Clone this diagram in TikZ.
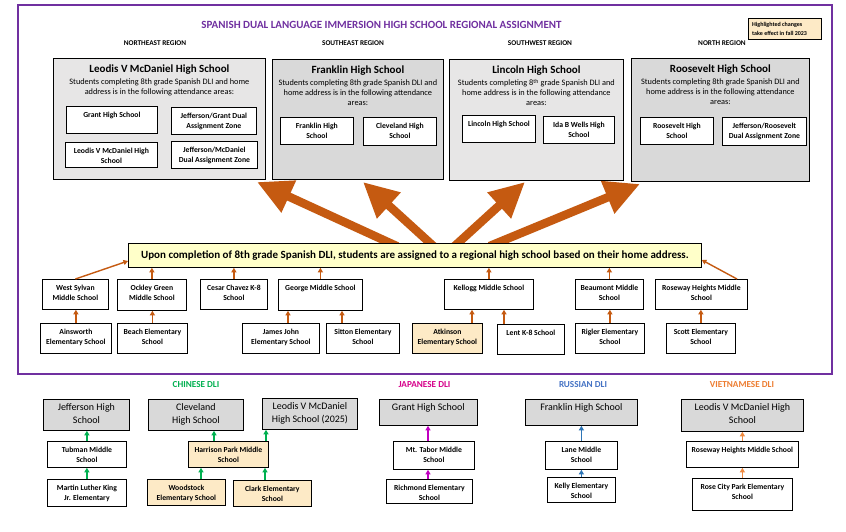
\documentclass[tikz,border=0pt]{standalone}
\usepackage{fontspec}
\setmainfont{Carlito}
\usetikzlibrary{arrows.meta,calc,backgrounds}
\definecolor{purp}{HTML}{7030A0}
\definecolor{borange}{HTML}{C55A11}
\definecolor{lorange}{HTML}{FDEAC6}
\definecolor{lyellow}{HTML}{FFFFC9}
\definecolor{grayA}{HTML}{E7E6E6}
\definecolor{grayB}{HTML}{D9D9D9}
\definecolor{cgreen}{HTML}{00B050}
\definecolor{jmag}{HTML}{D6008A}
\definecolor{jarr}{HTML}{C000C0}
\definecolor{rblue}{HTML}{4472C4}
\definecolor{rarr}{HTML}{2E75B6}
\definecolor{vorange}{HTML}{ED7D31}
\definecolor{varr}{HTML}{F08A40}
\newcommand{\mybox}[8][smalltext]{%
  \node[#7, anchor=north west, minimum width={(#5-#3)*1pt}, minimum height={(#6-#4)*1pt}] (#2) at (#3,#4) {};
  \node[anchor=north, align=center, inner sep=0pt, #1] at (#2.north) {#8};}
\begin{document}
\begin{tikzpicture}[x=1pt,y=-1pt,
  wbox/.style={draw=black, line width=0.8pt, fill=white, inner sep=0pt},
  obox/.style={wbox, fill=lorange},
  gbox/.style={wbox, fill=grayB},
  lgbox/.style={wbox, fill=grayA},
  smalltext/.style={font=\bfseries\fontsize{7.7}{10.5}\selectfont, yshift=-5.5pt},
  hstext/.style={font=\fontsize{10}{13}\selectfont, yshift=-4.5pt},
  bigtext/.style={font=\fontsize{8.3}{10}\selectfont, yshift=-7pt},
  regtext/.style={font=\bfseries\fontsize{7.3}{8}\selectfont},
  dlitext/.style={font=\bfseries\fontsize{9.2}{10}\selectfont},
  brarrow/.style={draw=borange, line width=1.4pt, -{Triangle[length=4.5pt,width=5pt]}},
  colarrow/.style={draw=#1, line width=1.4pt, -{Triangle[length=4.5pt,width=5pt]}},
  bigarrow/.style={draw=borange, line width=8.5pt, -{Triangle[length=35pt,width=33pt]}}]
\useasboundingbox (0,0) rectangle (846,531);
% frame
\draw[purp, line width=1.2pt] (18,5) rectangle (832,374);
\node[font=\bfseries\fontsize{11}{13}\selectfont, text=purp] (title) at (381.5,25) {SPANISH DUAL LANGUAGE IMMERSION HIGH SCHOOL REGIONAL ASSIGNMENT};
\node[draw=black, line width=0.8pt, fill=lorange, anchor=north west, minimum width=73pt, minimum height=21pt, inner sep=0pt] (note) at (748,18) {};
\node[font=\bfseries\fontsize{6}{8.3}\selectfont, align=left, anchor=west, inner sep=0pt] (notetext) at ([xshift=4pt]note.west) {Highlighted changes\\take effect in fall 2023};
% region labels
\node[regtext] (rne) at (155,43) {NORTHEAST REGION};
\node[regtext] (rse) at (353,43) {SOUTHEAST REGION};
\node[regtext] (rsw) at (540,43) {SOUTHWEST REGION};
\node[regtext] (rno) at (722,43) {NORTH REGION};
% big boxes
\mybox[bigtext]{leodis}{53}{58}{265}{179}{lgbox}{{\fontsize{11}{12}\selectfont\bfseries Leodis V McDaniel High School}\\[2pt]Students completing 8th grade Spanish DLI and home\\address is in the following attendance areas:}
\mybox[bigtext]{franklin}{272}{59}{443}{179}{gbox}{{\fontsize{11}{12}\selectfont\bfseries Franklin High School}\\[2pt]Students completing 8th grade Spanish DLI and\\home address is in the following attendance\\areas:}
\mybox[bigtext]{lincoln}{449}{59}{623}{180}{lgbox}{{\fontsize{11}{12}\selectfont\bfseries Lincoln High School}\\[2pt]Students completing 8\textsuperscript{th} grade Spanish DLI and\\home address is in the following attendance\\areas:}
\mybox[bigtext]{roosevelt}{631}{58}{809}{181}{gbox}{{\fontsize{11}{12}\selectfont\bfseries Roosevelt High School}\\[2pt]Students completing 8th grade Spanish DLI and\\home address is in the following attendance\\areas:}
% inner boxes
\mybox{lgrant}{66}{106}{157}{133}{wbox}{Grant High School}
\mybox{ljg}{171}{107}{256}{134}{wbox}{Jefferson/Grant Dual\\Assignment Zone}
\mybox{lleo}{65}{142}{157}{167}{wbox}{Leodis V McDaniel High\\School}
\mybox{ljm}{171}{141}{257}{168}{wbox}{Jefferson/McDaniel\\Dual Assignment Zone}
\mybox{ffr}{280}{117}{353}{144}{wbox}{Franklin High\\School}
\mybox{fcl}{363}{117}{436}{145}{wbox}{Cleveland High\\School}
\mybox{lli}{462}{115}{535}{142}{wbox}{Lincoln High School}
\mybox{lida}{543}{116}{614}{143}{wbox}{Ida B Wells High\\School}
\mybox{rro}{640}{117}{713}{144}{wbox}{Roosevelt High\\School}
\mybox{rjr}{722}{117}{806}{145}{wbox}{Jefferson/Roosevelt\\Dual Assignment Zone}
% banner
\node[draw=black, line width=0.8pt, fill=lyellow, anchor=north west, minimum width=573pt, minimum height=24pt, inner sep=0pt, font=\bfseries\fontsize{11}{13}\selectfont] (banner) at (128,243) {Upon completion of 8th grade Spanish DLI, students are assigned to a regional high school based on their home address.};
% big arrows
\coordinate (t1) at (257,182);
\coordinate (t2) at (363,182);
\coordinate (t3) at (525,182);
\coordinate (t4) at (640,184);
\begin{pgfonlayer}{background}
\fill[white] (0,0) rectangle (846,531);
\draw[bigarrow] ($(banner.north -| 390,0)!-8pt!(t1)$) -- (t1);
\draw[bigarrow] ($(banner.north -| 430,0)!-8pt!(t2)$) -- (t2);
\draw[bigarrow] ($(banner.north -| 458,0)!-8pt!(t3)$) -- (t3);
\draw[bigarrow] ($(banner.north -| 497,0)!-8pt!(t4)$) -- (t4);
\end{pgfonlayer}
% middle schools
\mybox{ws}{42}{279}{108}{309}{wbox}{West Sylvan\\Middle School}
\mybox{og}{117}{279}{186}{310}{wbox}{Ockley Green\\Middle School}
\mybox{cc}{200}{279}{267}{309}{wbox}{Cesar Chavez K-8\\School}
\mybox{gm}{278}{279}{362}{310}{wbox}{George Middle School}
\mybox{km}{444}{279}{533}{309}{wbox}{Kellogg Middle School}
\mybox{bm}{575}{279}{643}{309}{wbox}{Beaumont Middle\\School}
\mybox{rh}{655}{279}{747}{309}{wbox}{Roseway Heights Middle\\School}
% elementary
\mybox{ain}{40}{323}{111}{353}{wbox}{Ainsworth\\Elementary School}
\mybox{bea}{117}{323}{187}{353}{wbox}{Beach Elementary\\School}
\mybox{jj}{242}{323}{319}{353}{wbox}{James John\\Elementary School}
\mybox{sit}{326}{323}{399}{353}{wbox}{Sitton Elementary\\School}
\mybox{atk}{412}{323}{482}{353}{obox}{Atkinson\\Elementary School}
\mybox{lent}{497}{324}{564}{354}{wbox}{Lent K-8 School}
\mybox{rig}{575}{323}{644}{353}{wbox}{Rigler Elementary\\School}
\mybox{sco}{666}{323}{735}{353}{wbox}{Scott Elementary\\School}
% small arrows
\draw[brarrow] (ws.north) -- (banner.west |- 0,261);
\draw[brarrow] (og.north) -- (banner.south -| og.north);
\draw[brarrow] (cc.north) -- (banner.south -| cc.north);
\draw[brarrow] (gm.north) -- (banner.south -| gm.north);
\draw[brarrow] (km.north) -- (banner.south -| km.north);
\draw[brarrow] (bm.north) -- (banner.south -| bm.north);
\draw[brarrow] (rh.north -| 737,0) -- (banner.east |- 0,260);
\draw[brarrow] (ain.north) -- (ain.north |- ws.south);
\draw[brarrow] (bea.north) -- (bea.north |- og.south);
\draw[brarrow] (jj.north -| 288,0) -- (gm.south -| 288,0);
\draw[brarrow] (sit.north -| 342,0) -- (gm.south -| 342,0);
\draw[brarrow] (atk.north -| 472,0) -- (km.south -| 472,0);
\draw[brarrow] (lent.north -| 504,0) -- (km.south -| 504,0);
\draw[brarrow] (rig.north) -- (rig.north |- bm.south);
\draw[brarrow] (sco.north) -- (sco.north |- rh.south);
% bottom labels
\node[dlitext, text=cgreen] (lch) at (196,385) {CHINESE DLI};
\node[dlitext, text=jmag] (lja) at (424.5,385) {JAPANESE DLI};
\node[dlitext, text=rblue] (lru) at (583,385) {RUSSIAN DLI};
\node[dlitext, text=vorange] (lvi) at (742,385) {VIETNAMESE DLI};
% chinese
\mybox[hstext]{cjef}{43}{399}{129}{430}{gbox}{Jefferson High\\School}
\mybox[hstext]{ccle}{148}{399}{243}{430}{gbox}{Cleveland\\High School}
\mybox[hstext]{cleo}{262}{398}{357}{429}{gbox}{Leodis V McDaniel\\High School (2025)}
\mybox{ctub}{47}{441}{126}{467}{wbox}{Tubman Middle\\School}
\mybox{char}{188}{441}{268}{467}{obox}{Harrison Park Middle\\School}
\mybox{cmlk}{47}{479}{126}{506}{wbox}{Martin Luther King\\Jr. Elementary}
\mybox{cwood}{147}{479}{225}{505}{obox}{Woodstock\\Elementary School}
\mybox{cclark}{233}{480}{311}{506}{obox}{Clark Elementary\\School}
% japanese
\mybox[hstext]{jgr}{379}{399}{477}{425}{gbox}{Grant High School}
\mybox{jmt}{393}{441}{474}{469}{wbox}{Mt. Tabor Middle\\School}
\mybox{jri}{386}{479}{472}{503}{wbox}{Richmond Elementary\\School}
% russian
\mybox[hstext]{rfr}{525}{399}{637}{425}{gbox}{Franklin High School}
\mybox{rla}{545}{441}{617}{469}{wbox}{Lane Middle\\School}
\mybox{rke}{547}{477}{615}{502}{wbox}{Kelly Elementary\\School}
% vietnamese
\mybox[hstext]{vle}{681}{399}{803}{431}{gbox}{Leodis V McDaniel High\\School}
\mybox{vro}{686}{441}{798}{467}{wbox}{Roseway Heights Middle School}
\mybox{vrc}{692}{478}{792}{510}{wbox}{Rose City Park Elementary\\School}
% bottom arrows
\draw[colarrow=cgreen] (ctub.north) -- (ctub.north |- cjef.south);
\draw[colarrow=cgreen] (cmlk.north) -- (cmlk.north |- ctub.south);
\draw[colarrow=cgreen] (char.north -| 214,0) -- (ccle.south -| 214,0);
\draw[colarrow=cgreen] (char.north -| 266,0) -- (cleo.south -| 266,0);
\draw[colarrow=cgreen] (cwood.north -| 201,0) -- (char.south -| 201,0);
\draw[colarrow=cgreen] (cclark.north -| 265,0) -- (char.south -| 265,0);
\draw[colarrow=jarr] (jmt.north -| 428,0) -- (jgr.south -| 428,0);
\draw[colarrow=jarr] (jri.north -| 428,0) -- (jmt.south -| 428,0);
\draw[colarrow=rarr] (rla.north) -- (rla.north |- rfr.south);
\draw[colarrow=rarr] (rke.north) -- (rke.north |- rla.south);
\draw[colarrow=varr] (vro.north) -- (vro.north |- vle.south);
\draw[colarrow=varr] (vrc.north) -- (vrc.north |- vro.south);
\end{tikzpicture}
\end{document}
